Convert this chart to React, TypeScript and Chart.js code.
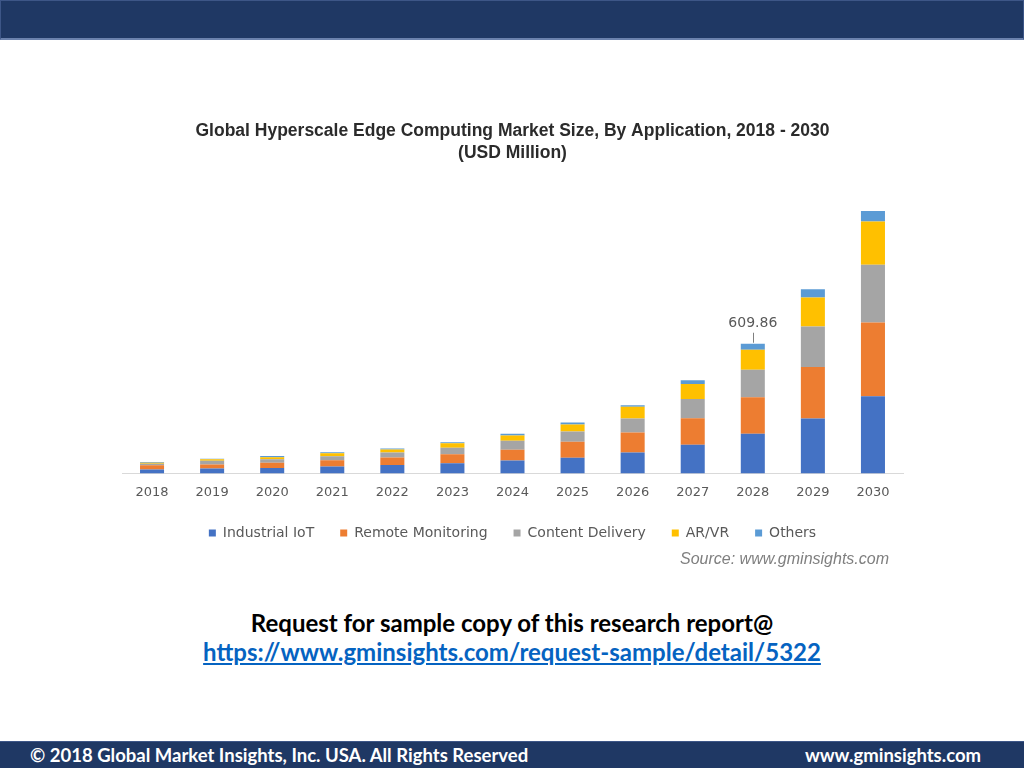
import React, { useEffect, useRef } from "react";
import { Chart, registerables } from "chart.js";

Chart.register(...registerables);

const years = ["2018", "2019", "2020", "2021", "2022", "2023", "2024", "2025", "2026", "2027", "2028", "2029", "2030"];
const industrialIoT = [18.8, 23.5, 25, 32.8, 39, 48.3, 61, 73.6, 98.5, 134.6, 186.2, 258, 362.5];
const remoteMonitoring = [20, 18.8, 25, 29.5, 36, 42.2, 50, 75, 93.8, 124.8, 171.6, 242.5, 347];
const contentDelivery = [6.5, 17, 17, 18.8, 23.5, 30, 42, 48.4, 65.7, 91, 130, 190.4, 272];
const arVr = [5, 7, 9.4, 14, 14, 21.6, 25, 32.8, 54.9, 70.4, 94, 136, 203.5];
const others = [3, 3, 6, 4.7, 4.7, 4.7, 8, 9.4, 7.5, 16.9, 28.06, 39.4, 49.7];

const seriesNames = ["Industrial IoT", "Remote Monitoring", "Content Delivery", "AR/VR", "Others"];
const seriesValues = [industrialIoT, remoteMonitoring, contentDelivery, arVr, others];
const seriesColors = ["#4472c4", "#ed7d31", "#a5a5a5", "#ffc000", "#5b9bd5"];
const labelledYear = "2028";

const titleLines = ["Global Hyperscale Edge Computing Market Size, By Application, 2018 - 2030", "(USD Million)"];
const sourceText = "Source: www.gminsights.com";

const calloutPlugin = {
  id: "callout",
  afterDatasetsDraw(chart: any) {
    const idx = years.indexOf(labelledYear);
    const n = chart.data.datasets.length;
    const meta = chart.getDatasetMeta(n - 1);
    const bar = meta.data[idx];
    if (!bar) return;
    let total = 0;
    chart.data.datasets.forEach((d: any) => (total += d.data[idx]));
    const ctx = chart.ctx;
    ctx.save();
    const x = Math.round(bar.x) + 0.5;
    ctx.strokeStyle = "#808080";
    ctx.lineWidth = 1;
    ctx.beginPath();
    ctx.moveTo(x, bar.y - 1);
    ctx.lineTo(x, bar.y - 11);
    ctx.stroke();
    ctx.fillStyle = "#595959";
    ctx.font = "14px 'DejaVu Sans'";
    ctx.textAlign = "center";
    ctx.textBaseline = "middle";
    ctx.fillText(total.toFixed(2), bar.x, bar.y - 20);
    ctx.restore();
  },
};

function ChartBox() {
  const ref = useRef<HTMLCanvasElement | null>(null);
  useEffect(() => {
    if (!ref.current) return;
    const chart = new Chart(ref.current, {
      type: "bar",
      data: {
        labels: years,
        datasets: seriesNames.map((name, i) => ({
          label: name,
          data: seriesValues[i],
          backgroundColor: seriesColors[i],
          borderWidth: 0,
          barPercentage: 0.4,
          categoryPercentage: 1.0,
        })),
      },
      options: {
        animation: false,
        responsive: true,
        maintainAspectRatio: false,
        layout: { padding: { left: 2, right: 7, top: 0, bottom: 0 } },
        scales: {
          x: {
            stacked: true,
            grid: { display: false, drawTicks: true, tickLength: 11 },
            border: { display: true, color: "#d9d9d9", width: 1 },
            ticks: { color: "#595959", font: { family: "'DejaVu Sans'", size: 13 }, padding: 0 },
          },
          y: {
            stacked: true,
            display: false,
            min: 0,
            max: 1300,
          },
        },
        plugins: {
          title: {
            display: true,
            text: titleLines,
            color: "#2b2b2b",
            font: { family: "'Liberation Sans', Arial, sans-serif", size: 17.5, weight: "bold", lineHeight: 22 / 17.5 },
            padding: { top: 10, bottom: 33 },
          },
          legend: {
            position: "bottom",
            labels: {
              boxWidth: 7,
              boxHeight: 7,
              padding: 26,
              color: "#595959",
              font: { family: "'DejaVu Sans'", size: 14 },
            },
          },
          tooltip: { enabled: false },
        },
      },
      plugins: [calloutPlugin],
    } as any);
    return () => chart.destroy();
  }, []);
  return (
    <div style={{ position: "absolute", left: 120, top: 110, width: 790, height: 440 }}>
      <canvas ref={ref} />
    </div>
  );
}

export default function App() {
  return (
    <div style={{ position: "absolute", left: 0, top: 0, width: 1024, height: 768, background: "#ffffff", overflow: "hidden" }}>
      <div
        style={{
          position: "absolute",
          left: 0,
          top: 0,
          width: 1024,
          height: 40,
          boxSizing: "border-box",
          background: "#1f3864",
          border: "1px solid #3d5687",
          borderBottom: "2px solid #6b82ad",
        }}
      />
      <ChartBox />
      <div
        style={{
          position: "absolute",
          right: 135,
          top: 549,
          fontFamily: "'Liberation Sans', Arial, sans-serif",
          fontStyle: "italic",
          fontSize: 16,
          lineHeight: "20px",
          color: "#7f7f7f",
          whiteSpace: "nowrap",
        }}
      >
        {sourceText}
      </div>
      <div
        style={{
          position: "absolute",
          left: 0,
          top: 607,
          width: 1024,
          textAlign: "center",
          fontFamily: "Lato, 'Open Sans', sans-serif",
          fontWeight: 700,
          fontSize: 24,
          lineHeight: "32px",
          color: "#000000",
        }}
      >
        Request for sample copy of this research report@
      </div>
      <div
        style={{
          position: "absolute",
          left: 0,
          top: 636,
          width: 1024,
          textAlign: "center",
          fontFamily: "Lato, 'Open Sans', sans-serif",
          fontWeight: 700,
          fontSize: 24,
          lineHeight: "32px",
          color: "#0563c1",
          textDecoration: "underline",
        }}
      >
        https://www.gminsights.com/request-sample/detail/5322
      </div>
      <div
        style={{
          position: "absolute",
          left: 0,
          top: 741,
          width: 1024,
          height: 27,
          boxSizing: "border-box",
          background: "#1f3864",
          borderTop: "1px solid #3d5687",
          color: "#ffffff",
          fontFamily: "Lato, 'Open Sans', sans-serif",
          fontWeight: 700,
          fontSize: 18.5,
          lineHeight: "26px",
        }}
      >
        <span style={{ position: "absolute", left: 30, top: 0 }}>© 2018 Global Market Insights, Inc. USA. All Rights Reserved</span>
        <span style={{ position: "absolute", right: 43, top: 0 }}>www.gminsights.com</span>
      </div>
    </div>
  );
}
